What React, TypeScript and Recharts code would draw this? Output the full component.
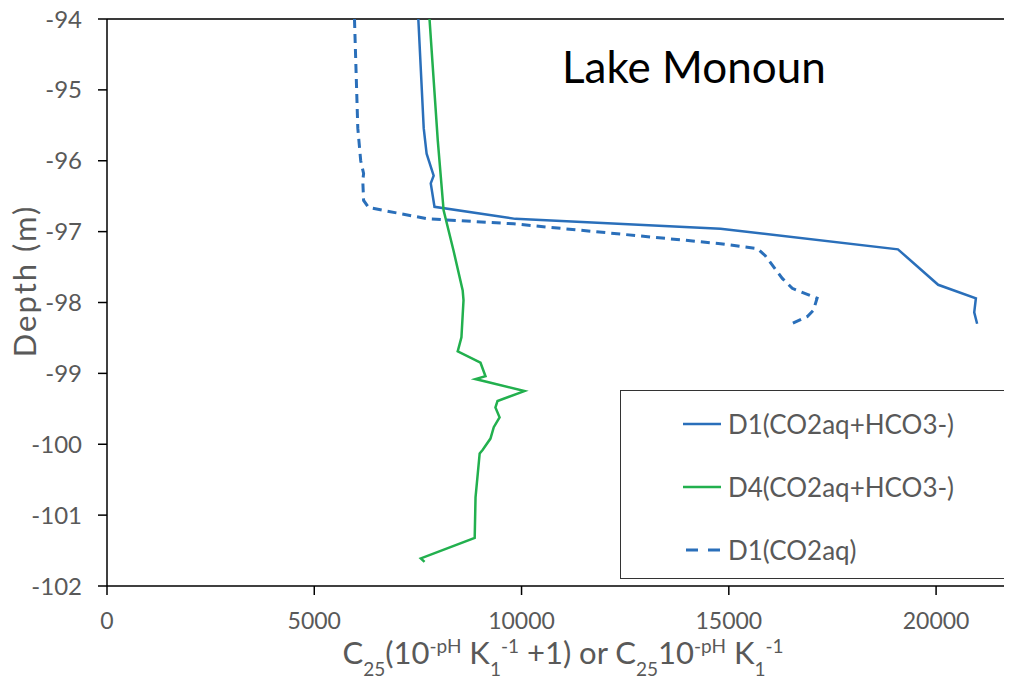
import { LineChart, Line, XAxis, YAxis, ReferenceLine, Legend, Label } from 'recharts';

// depth (m) and concentration readings
const d1Depth = [-94, -95.54, -95.9, -96.21, -96.32, -96.65, -96.82, -96.96, -97.25, -97.75, -97.94, -98.14, -98.3];
const d1Conc = [7510, 7640, 7710, 7880, 7810, 7900, 9850, 14800, 19080, 20050, 20960, 20920, 20990];

const d4Depth = [
  -94, -95.72, -96.7, -97.27, -97.83, -97.97, -98.49, -98.69, -98.85, -99.04, -99.08, -99.25,
  -99.39, -99.48, -99.62, -99.76, -99.92, -100.08, -100.13, -100.75, -101.32, -101.61, -101.66,
];
const d4Conc = [
  7780, 7980, 8120, 8360, 8580, 8600, 8550, 8460, 9010, 9130, 8890, 10070,
  9420, 9370, 9470, 9330, 9250, 9060, 8990, 8890, 8870, 7570, 7660,
];

const co2Depth = [
  -94, -95.54, -96.0, -96.18, -96.28, -96.56, -96.66, -96.82, -96.89, -97.17, -97.24, -97.34,
  -97.66, -97.8, -97.94, -98.11, -98.2, -98.31,
];
const co2Conc = [
  5970, 6050, 6120, 6190, 6170, 6190, 6310, 7740, 9810, 14800, 15690, 15880,
  16290, 16530, 17130, 17040, 16890, 16480,
];

const xTicks = [0, 5000, 10000, 15000, 20000];
const yTicks = [-94, -95, -96, -97, -98, -99, -100, -101, -102];

const zip = (depth: number[], conc: number[]) => depth.map((d, i) => ({ x: conc[i], d }));
const d1Data = zip(d1Depth, d1Conc);
const d4Data = zip(d4Depth, d4Conc);
const co2Data = zip(co2Depth, co2Conc);

const BLUE = '#2a6fba';
const GREEN = '#22b04e';
const GREY = '#595959';
const FONT = 'Lato, "Open Sans", sans-serif';

const legendItems = [
  { name: 'D1(CO2aq+HCO3-)', color: BLUE, dash: undefined },
  { name: 'D4(CO2aq+HCO3-)', color: GREEN, dash: undefined },
  { name: 'D1(CO2aq)', color: BLUE, dash: '12 10' },
];

function LegendBox() {
  return (
    <div
      style={{
        width: 391,
        height: 189,
        border: '1.5px solid #333',
        boxSizing: 'border-box',
        background: '#fff',
        fontFamily: FONT,
        paddingTop: 1,
      }}
    >
      {legendItems.map((it) => (
        <div key={it.name} style={{ display: 'flex', alignItems: 'center', height: 63, paddingLeft: 62 }}>
          <svg width={40} height={10} style={{ marginRight: 5 }}>
            <line
              x1={it.dash ? 3 : 0}
              y1={5}
              x2={38}
              y2={5}
              stroke={it.color}
              strokeWidth={it.dash ? 3 : 2.5}
              strokeDasharray={it.dash}
            />
          </svg>
          <span style={{ fontSize: 26, color: GREY }}>{it.name}</span>
        </div>
      ))}
    </div>
  );
}

function XTitle(props: any) {
  const vb = props.viewBox || {};
  const cx = vb.x + vb.width / 2;
  const y = vb.y + 78;
  const sm = 19;
  return (
    <text x={cx} y={y} textAnchor='middle' fontSize={31} fill={GREY} fontFamily={FONT}>
      <tspan>C</tspan>
      <tspan fontSize={sm} baselineShift='sub'>25</tspan>
      <tspan>(10</tspan>
      <tspan fontSize={sm} baselineShift='super'>-pH</tspan>
      <tspan> K</tspan>
      <tspan fontSize={sm} baselineShift='sub'>1</tspan>
      <tspan fontSize={sm} baselineShift='super'>-1</tspan>
      <tspan> +1) or C</tspan>
      <tspan fontSize={sm} baselineShift='sub'>25</tspan>
      <tspan>10</tspan>
      <tspan fontSize={sm} baselineShift='super'>-pH</tspan>
      <tspan> K</tspan>
      <tspan fontSize={sm} baselineShift='sub'>1</tspan>
      <tspan fontSize={sm} baselineShift='super'>-1</tspan>
    </text>
  );
}

function YTitle() {
  return (
    <text
      x={16}
      y={273}
      transform='rotate(-90, 16, 273)'
      textAnchor='middle'
      dominantBaseline='central'
      fontSize={31}
      letterSpacing={2}
      fill={GREY}
      fontFamily={FONT}
    >
      Depth (m)
    </text>
  );
}

export default function App() {
  return (
    <div style={{ width: 1004, height: 675, overflow: 'hidden', position: 'relative', background: '#fff' }}>
      <LineChart width={1030} height={675} margin={{ top: 11, right: 19, bottom: 0, left: 0 }}>
        <XAxis
          dataKey='x'
          type='number'
          domain={[0, 22000]}
          ticks={xTicks}
          interval={0}
          allowDataOverflow
          height={97}
          tickSize={9}
          tickMargin={18}
          axisLine={{ stroke: '#000', strokeWidth: 1.5 }}
          tickLine={{ stroke: '#000', strokeWidth: 1.5 }}
          tick={{ fontSize: 23, fill: GREY, fontFamily: FONT }}
        >
          <Label content={XTitle} />
        </XAxis>
        <YAxis
          type='number'
          domain={[-102, -94]}
          ticks={yTicks}
          interval={0}
          allowDataOverflow
          width={99}
          tickSize={9}
          tickMargin={16}
          axisLine={{ stroke: '#000', strokeWidth: 1.5 }}
          tickLine={{ stroke: '#000', strokeWidth: 1.5 }}
          tick={{ fontSize: 24, fill: GREY, fontFamily: FONT }}
        >
          <Label content={YTitle} />
        </YAxis>
        <ReferenceLine y={-94} stroke='#3a3a3a' strokeWidth={2} />
        <Line
          data={d1Data}
          dataKey='d'
          name='D1(CO2aq+HCO3-)'
          stroke={BLUE}
          strokeWidth={2.5}
          dot={false}
          type='linear'
          isAnimationActive={false}
        />
        <Line
          data={d4Data}
          dataKey='d'
          name='D4(CO2aq+HCO3-)'
          stroke={GREEN}
          strokeWidth={2.5}
          dot={false}
          type='linear'
          isAnimationActive={false}
        />
        <Line
          data={co2Data}
          dataKey='d'
          name='D1(CO2aq)'
          stroke={BLUE}
          strokeWidth={3}
          strokeDasharray='9 6'
          dot={false}
          type='linear'
          isAnimationActive={false}
        />
        <Legend
          layout='horizontal'
          verticalAlign='middle'
          align='center'
          content={LegendBox}
          wrapperStyle={{ left: 612, top: 382, width: 391, height: 189 }}
        />
        <text x={554} y={75} fontSize={44} fill='#000' fontFamily={FONT}>
          Lake Monoun
        </text>
      </LineChart>
    </div>
  );
}
